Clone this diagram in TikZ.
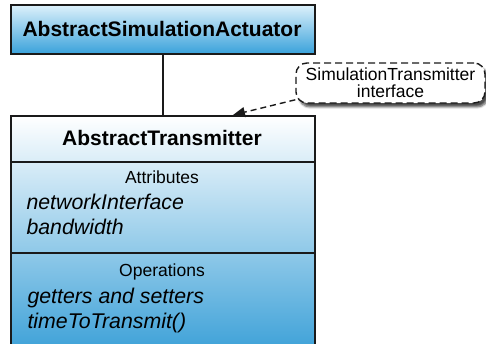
\documentclass[tikz,border=0pt]{standalone}
\usepackage{fontspec}
\setmainfont{Liberation Sans}
\usetikzlibrary{arrows.meta,shadows.blur}
\definecolor{topL}{HTML}{DDF1FB}
\definecolor{topD}{HTML}{3AA2DB}
\definecolor{botD}{HTML}{3DA1D8}
\definecolor{edge}{HTML}{1A1A1A}
\begin{document}
\begin{tikzpicture}[x=1pt,y=-1pt,
  box/.style={draw=edge, line width=1.7pt, inner sep=0pt, anchor=north west, minimum width=304pt},
  ttl/.style={font=\fontsize{21}{24}\selectfont\bfseries, anchor=base},
  sect/.style={font=\fontsize{17.5}{20}\selectfont, anchor=base},
  itm/.style={font=\fontsize{21.3}{24}\selectfont\itshape, anchor=base west},
  divider/.style={draw=edge, line width=1.6pt},
  link/.style={draw=edge, line width=1.4pt},
  dep/.style={draw=edge, line width=1.4pt, dash pattern=on 6pt off 4pt, -{Triangle[length=12pt,width=10pt]}},
  callout/.style={draw=edge, line width=1.4pt, dash pattern=on 7pt off 4pt, rounded corners=11pt, fill=white,
    blur shadow={shadow xshift=3pt, shadow yshift=-4pt, shadow blur steps=6, shadow opacity=70}, align=center,
    font=\fontsize{17.5}{17}\selectfont, minimum width=189pt, minimum height=40pt, inner sep=0pt}
]
\useasboundingbox (0,0) rectangle (486,344);
% top class
\node[box, top color=topL, bottom color=topD, minimum height=49pt] (act) at (10,4) {};
\node[ttl] (actT) at (162,37) {AbstractSimulationActuator};
% bottom class
\node[box, top color=white, bottom color=botD, minimum height=236pt] (tr) at (10,115) {};
\node[ttl] (trT) at (162,146) {AbstractTransmitter};
\coordinate (d1l) at (10,162); \coordinate (d1r) at (314,162);
\coordinate (d2l) at (10,253); \coordinate (d2r) at (314,253);
\draw[divider] (d1l) -- (d1r);
\draw[divider] (d2l) -- (d2r);
\node[sect] (attr) at (162,184) {Attributes};
\node[itm] (a1) at (23,210) {networkInterface};
\node[itm] (a2) at (23,234) {bandwidth};
\node[sect] (ops) at (162,276) {Operations};
\node[itm] (o1) at (24,303) {getters and setters};
\node[itm] (o2) at (24,328) {timeToTransmit()};
% association
\draw[link] (act.south) -- (tr.north);
% note
\node[callout] (note) at (390.5,83) {SimulationTransmitter\\interface};
\coordinate (tip) at (233,115);
\draw[dep] (note.190) -- (tip);
\end{tikzpicture}
\end{document}
